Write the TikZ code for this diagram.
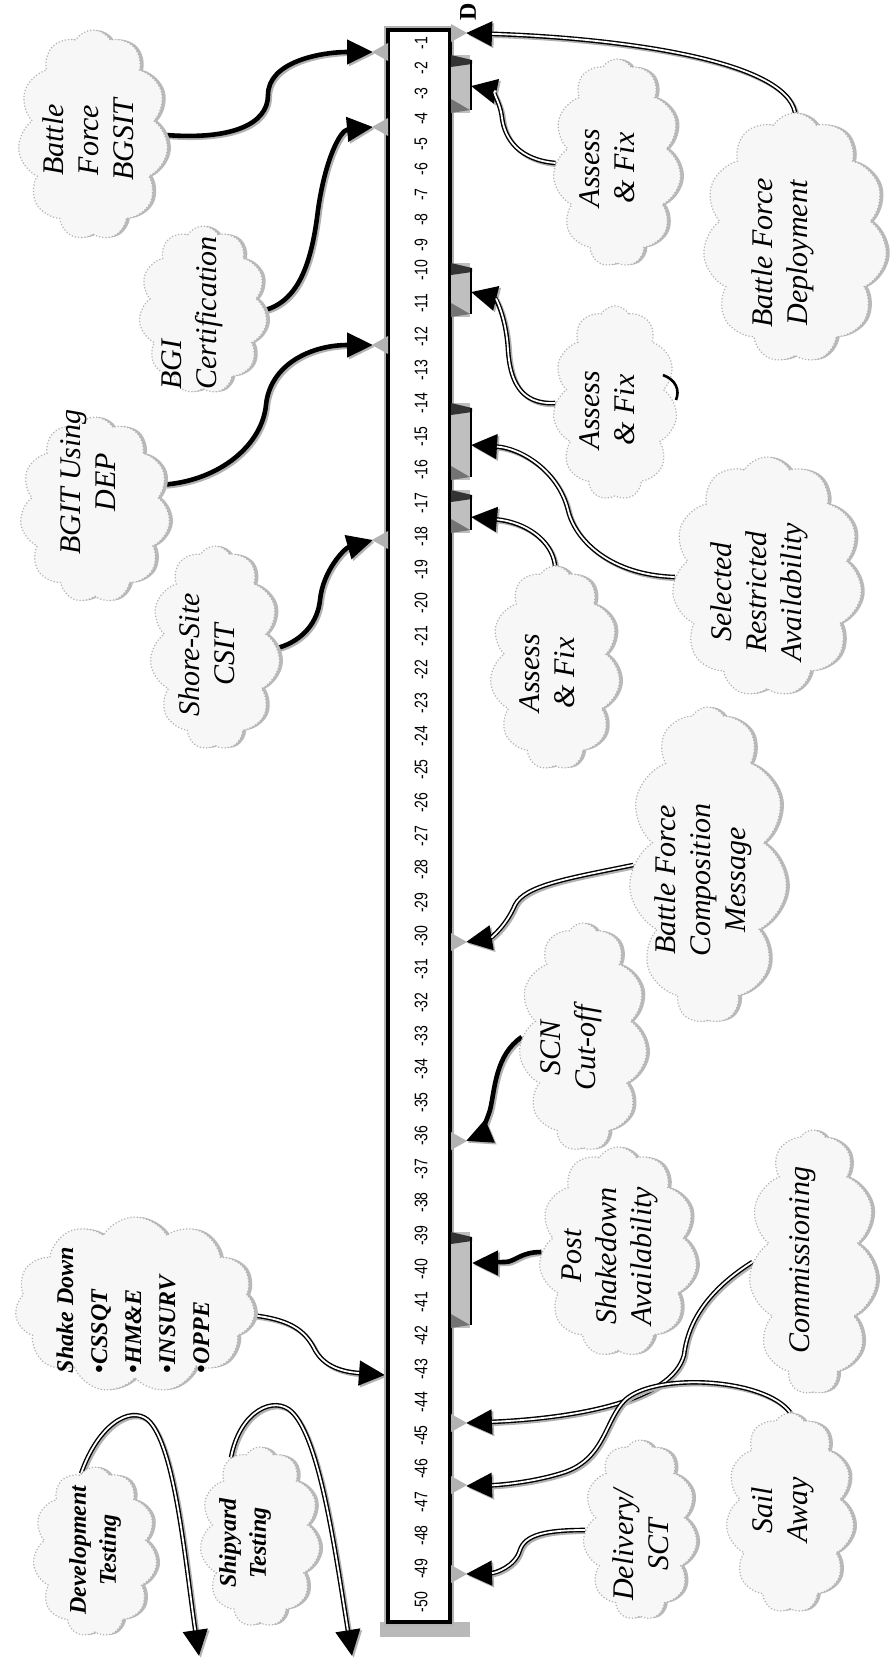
\documentclass[tikz,border=0pt]{standalone}
\usepackage{fontspec}
\setmainfont{Liberation Serif}
\newfontfamily\numfont{Liberation Sans}
\usetikzlibrary{shapes.symbols,arrows.meta}
\pgfdeclarelayer{bg}
\pgfsetlayers{bg,main}
\newcommand\gtriL[1]{\fill[gray!60] (388,#1-9) -- (372,#1) -- (388,#1+9) -- cycle;}
\newcommand\gtriR[1]{\fill[gray!60] (451,#1-9) -- (467,#1) -- (451,#1+9) -- cycle;}
\newcommand\rbox[2]{%
 \fill[gray!50] (451,#1) rectangle (470,#2);
 \fill[black!80] (451,#1) -- (472,#1+5) -- (472,#1+9) -- (451,#1+12) -- cycle;
 \draw[line width=1.4pt] (471,#1+5) -- (471,#2-3);
 \fill[black!55] (451,#2) -- (470,#2-3) -- (451,#2-14) -- cycle;}
\tikzset{
 cloudbox/.style={cloud, cloud puffs=11, cloud puff arc=120, cloud ignores aspect,
   draw=gray!60, densely dotted, line width=0.6pt, fill=gray!6, inner sep=0pt,
   preaction={fill=gray!55, transform canvas={shift={(1.8pt,0pt)}}}},
 cloudflat/.style={cloud, cloud puffs=11, cloud puff arc=120, cloud ignores aspect,
   draw=gray!60, densely dotted, line width=0.6pt, fill=gray!6, inner sep=0pt},
 lbl/.style={rotate=90, align=center, font=\fontsize{15}{17.5}\selectfont\itshape, inner sep=0pt},
 lbll/.style={lbl, align=left},
 blbl/.style={rotate=90, align=center, font=\fontsize{12}{15}\selectfont\bfseries\itshape, inner sep=0pt},
 shk/.style={rotate=90, align=left, font=\fontsize{12}{17}\selectfont\bfseries\itshape, inner sep=0pt},
 numst/.style={rotate=90, yscale=1.3, font=\numfont\fontsize{7}{8}\selectfont, inner sep=0pt},
 conn/.style={line width=2.3pt, draw=black, -{Triangle[length=13pt,width=12pt]},
   preaction={draw=gray!60, line width=2.3pt, transform canvas={shift={(0.9pt,-0.9pt)}}}},
 tube/.style={conn, postaction={draw=white, line width=0.9pt, -, shorten >=13pt}},
}
\begin{document}
\begin{tikzpicture}[x=0.5pt, y=-0.5pt]
\begin{pgfonlayer}{bg}
\fill[white] (0,0) rectangle (889,1664);
\end{pgfonlayer}
\useasboundingbox (0,0) rectangle (889,1664);

% timeline bar
\fill[gray!55] (380,1622) rectangle (470,1637);
\node[draw, line width=2pt, fill=white, minimum width=31pt, minimum height=796pt, inner sep=0pt,
  preaction={draw=gray!60, line width=3.6pt}] (bar) at (419,826) {};
\foreach \n in {1,...,9} \node[numst] (n\n) at (421,{43+(\n-1)*25.25}) {-\n};
\foreach \n in {10,...,50} \node[numst] (n\n) at (421,{270+(\n-10)*33.3}) {-\n};
\node[rotate=90, font=\fontsize{12}{12}\selectfont\bfseries, inner sep=0pt] (dlab) at (468,12) {D};

% range boxes on the right of the bar
\rbox{55}{113}
\rbox{263}{317}
\rbox{403}{480}
\rbox{490}{533}
\rbox{1232}{1328}

% shadow triangles at the bar
\gtriL{52}\gtriL{127}\gtriL{345}\gtriL{540}
\gtriR{33}\gtriR{942}\gtriR{1141}\gtriR{1423}\gtriR{1485}\gtriR{1574}

% clouds
\node[cloudbox, minimum width=75pt, minimum height=105pt] (c-bgsit) at (93,135) {};
\node[cloudbox, minimum width=64pt, minimum height=84pt] (c-bgi) at (203,310) {};
\node[cloudbox, minimum width=75pt, minimum height=93pt] (c-dep) at (95,510) {};
\node[cloudbox, minimum width=65pt, minimum height=102pt] (c-csit) at (215,648) {};
\node[cloudbox, minimum width=120pt, minimum height=88pt] (c-shake) at (135,1305) {};
\node[cloudbox, minimum width=62pt, minimum height=85pt] (c-dev) at (95,1552) {};
\node[cloudbox, minimum width=60pt, minimum height=90pt] (c-ship) at (260,1537) {};
\node[cloudbox, minimum width=64pt, minimum height=104pt] (c-af1) at (617,163) {};
\node[cloudbox, minimum width=92pt, minimum height=125pt] (c-bfd) at (795,238) {};
\node[cloudflat, minimum width=62pt, minimum height=97pt] (c-af2) at (615,403) {};
\node[cloudbox, minimum width=95pt, minimum height=120pt] (c-sra) at (767,577) {};
\node[cloudbox, minimum width=65pt, minimum height=102pt] (c-af3) at (555,668) {};
\node[cloudbox, minimum width=79pt, minimum height=158pt] (c-bfcm) at (708,865) {};
\node[cloudbox, minimum width=64pt, minimum height=114pt] (c-scn) at (583,1037) {};
\node[cloudbox, minimum width=79pt, minimum height=105pt] (c-post) at (618,1252) {};
\node[cloudbox, minimum width=64pt, minimum height=132pt] (c-comm) at (813,1262) {};
\node[cloudbox, minimum width=57pt, minimum height=90pt] (c-deliv) at (640,1530) {};
\node[cloudbox, minimum width=64pt, minimum height=100pt] (c-sail) at (790,1513) {};

% cloud texts
\node[lbl] (t-bgsit) at (88,140) {Battle\\Force\\BGSIT};
\node[lbll] (t-bgi) at (192,313) {BGI\\Certification};
\node[lbl] (t-dep) at (88,482) {BGIT Using\\DEP};
\node[lbl] (t-csit) at (207,655) {Shore-Site\\CSIT};
\node[shk] (t-shake) at (133,1310) {Shake Down\\•CSSQT\\•HM\&E\\•INSURV\\•OPPE};
\node[blbl] (t-dev) at (95,1550) {Development\\Testing};
\node[blbl] (t-ship) at (245,1543) {Shipyard\\Testing};
\node[lbl] (t-af1) at (607,168) {Assess\\\& Fix};
\node[lbl] (t-bfd) at (783,253) {Battle Force\\Deployment};
\node[lbl] (t-af2) at (607,410) {Assess\\\& Fix};
\node[lbl] (t-sra) at (759,592) {Selected\\Restricted\\Availability};
\node[lbl] (t-af3) at (547,673) {Assess\\\& Fix};
\node[lbl] (t-bfcm) at (703,880) {Battle Force\\Composition\\Message};
\node[lbl] (t-scn) at (571,1048) {SCN\\Cut-off};
\node[lbl] (t-post) at (610,1256) {Post\\Shakedown\\Availability};
\node[lbl] (t-comm) at (803,1260) {Commissioning};
\node[lbl] (t-deliv) at (641,1545) {Delivery/\\SCT};
\node[lbl] (t-sail) at (783,1510) {Sail\\Away};

% stray mark
\draw[line width=1.3pt] (663,375) .. controls (676,380) and (680,390) .. (676,400);

% arrow tip coordinates
\coordinate (m-a1) at (373,52);
\coordinate (m-a2) at (373,127);
\coordinate (m-a3) at (373,345);
\coordinate (m-a4) at (373,540);
\coordinate (m-a5) at (385,1375);
\coordinate (m-a6) at (199,1656);
\coordinate (m-a7) at (352,1656);
\coordinate (m-b1) at (466,33);
\coordinate (m-b2) at (471,86);
\coordinate (m-b3) at (471,292);
\coordinate (m-b4) at (471,445);
\coordinate (m-b5) at (471,517);
\coordinate (m-b6) at (466,942);
\coordinate (m-b7) at (466,1141);
\coordinate (m-b8) at (472,1263);
\coordinate (m-b9) at (466,1423);
\coordinate (m-b10) at (466,1486);
\coordinate (m-b11) at (466,1574);

\begin{pgfonlayer}{bg}
\draw[conn] (c-bgsit.east) .. controls (230,140) and (268,125) .. (268,95) .. controls (268,62) and (320,52) .. (m-a1);
\draw[conn] (c-bgi.east) .. controls (300,300) and (312,260) .. (318,210) .. controls (325,160) and (340,130) .. (m-a2);
\draw[conn] (c-dep.20) .. controls (220,480) and (262,445) .. (266,405) .. controls (270,365) and (310,345) .. (m-a3);
\draw[conn] (c-csit.east) .. controls (305,640) and (318,620) .. (320,600) .. controls (323,570) and (345,548) .. (m-a4);
\draw[tube] (c-shake.-5) .. controls (290,1320) and (305,1330) .. (315,1350) .. controls (325,1368) and (345,1372) .. (m-a5);
\draw[tube] (c-dev.100) .. controls (98,1425) and (130,1405) .. (148,1420) .. controls (175,1445) and (185,1560) .. (m-a6);
\draw[tube] (c-ship.110) .. controls (240,1410) and (275,1395) .. (292,1412) .. controls (320,1440) and (335,1550) .. (m-a7);
\draw[tube] (c-bfd.north) .. controls (785,60) and (620,38) .. (m-b1);
\draw[tube] (c-af1.west) .. controls (520,160) and (505,140) .. (502,118) .. controls (500,100) and (490,90) .. (m-b2);
\draw[tube] (c-af2.west) .. controls (520,405) and (510,380) .. (508,350) .. controls (506,315) and (495,298) .. (m-b3);
\draw[tube] (c-sra.west) .. controls (610,575) and (575,540) .. (568,510) .. controls (558,470) and (520,448) .. (m-b4);
\draw[tube] (c-af3.north) .. controls (552,540) and (525,522) .. (m-b5);
\draw[tube] (c-bfcm.west) .. controls (570,878) and (525,885) .. (515,905) .. controls (505,928) and (490,938) .. (m-b6);
\draw[conn] (c-scn.west) .. controls (495,1055) and (495,1090) .. (490,1110) .. controls (485,1126) and (478,1136) .. (m-b7);
\draw[conn] (c-post.west) .. controls (520,1252) and (515,1262) .. (505,1262) .. controls (495,1262) and (490,1263) .. (m-b8);
\draw[tube] (c-comm.west) .. controls (700,1295) and (687,1330) .. (684,1355) .. controls (672,1400) and (580,1418) .. (m-b9);
\draw[tube] (c-sail.north) .. controls (765,1378) and (655,1372) .. (625,1400) .. controls (605,1420) and (605,1458) .. (565,1472) .. controls (535,1482) and (500,1485) .. (m-b10);
\draw[tube] (c-deliv.west) .. controls (545,1530) and (525,1535) .. (520,1550) .. controls (515,1567) and (495,1573) .. (m-b11);
\end{pgfonlayer}
\end{tikzpicture}
\end{document}
